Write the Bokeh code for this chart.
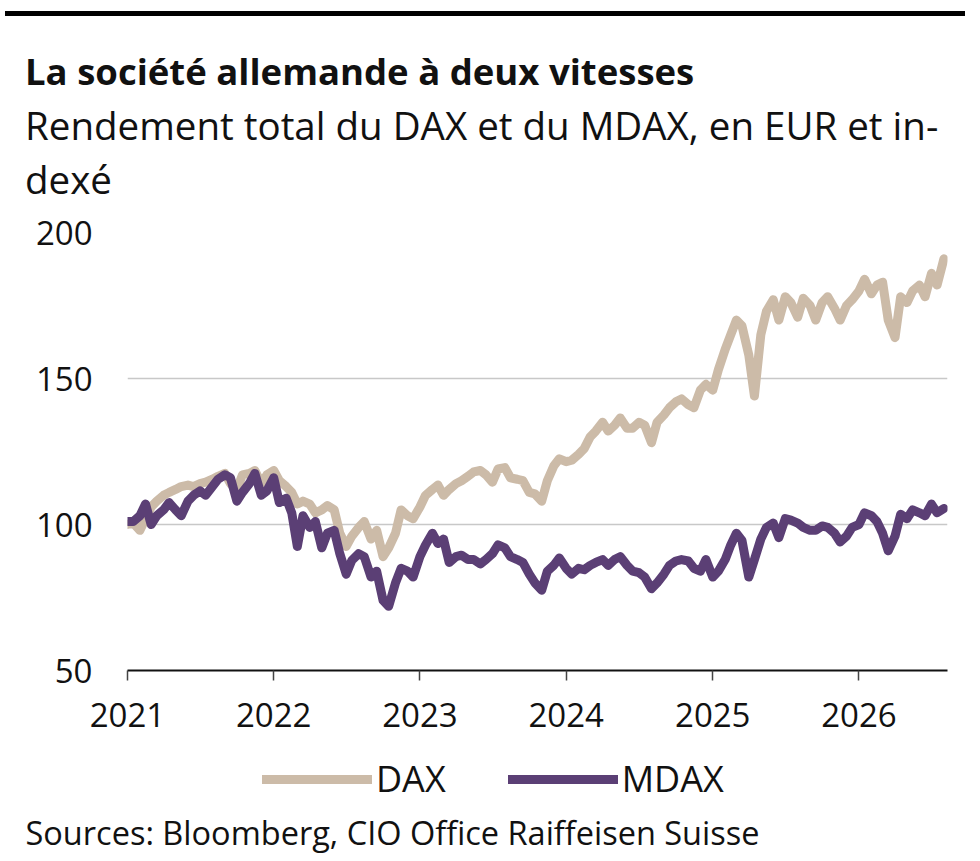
import pandas as pd
from bokeh.plotting import figure
from bokeh.layouts import column
from bokeh.models import (Title, Legend, LegendItem, FixedTicker, Div,
                          DatetimeTickFormatter, Range1d, ColumnDataSource)
from bokeh.embed import file_html
from bokeh.resources import INLINE

title_text = "La société allemande à deux vitesses"
subtitle_lines = ["Rendement total du DAX et du MDAX, en EUR et in-", "dexé"]
source_text = "Sources: Bloomberg, CIO Office Raiffeisen Suisse"
series_names = ["DAX", "MDAX"]
start_date = "2021-01-01"
end_date = "2026-08-10"
year_ticks = ["2021-01-01", "2022-01-01", "2023-01-01", "2024-01-01", "2025-01-01", "2026-01-01"]
y_ticks = [50, 100, 150, 200]

# semi-monthly readings (1st and 15th of each month), indexed to 100
dax = [100, 100.5, 98, 102, 106, 108, 110, 111, 112, 113, 113.5, 113,
       114, 114.5, 115.5, 116.5, 117.5, 114, 112, 117, 117.5, 118.5, 114, 117,
       118.5, 115, 113, 111, 107, 108, 107, 104, 105, 106.5, 105, 97,
       92.5, 96, 99, 101, 95, 98, 89, 92, 97, 105, 103, 102,
       106, 110, 112, 113.5, 110, 112, 114, 115, 116.5, 118, 118.5, 117,
       114.5, 119, 119.5, 116, 115.5, 115, 111, 110.5, 108, 115, 120, 122.5,
       121.5, 122, 124, 126, 130, 132, 135, 132, 134, 136.5, 133, 133,
       135, 134, 128, 135, 137.5, 140, 142, 143, 141, 140, 146, 148,
       146, 153, 160, 165, 170, 168, 158, 144, 165, 173, 177, 170,
       178, 176, 171, 177.5, 175, 170, 176, 178, 174, 170, 175, 177,
       180, 184, 179, 182, 183, 170, 164, 178, 176, 180, 182, 178,
       186, 182, 191]
mdax = [101, 101, 103, 107, 100, 103, 105, 107.5, 105, 103, 108, 110,
        111.5, 110, 113, 115.5, 117, 116, 108, 111, 114, 117.5, 110, 111.5,
        116, 107.5, 109, 104, 92.5, 103, 99, 101, 92, 97, 98, 90,
        83, 87.7, 90, 89, 82, 84, 74, 72, 80, 85, 84, 82,
        89, 93, 97, 93.5, 95, 87, 89, 89.5, 88, 88, 86.5, 88,
        90, 93, 92, 89, 88, 87, 83, 80, 77.5, 84, 86, 88.5,
        85, 83, 85, 84.5, 86, 87, 88, 86, 88, 89, 86, 84,
        83.5, 82, 78, 80, 83, 86, 87.5, 88, 87.5, 85, 84, 88,
        82, 84, 88, 93, 97, 94.5, 82, 88, 95, 99, 100.5, 95.5,
        102, 101.5, 100.5, 99, 98, 98, 99.5, 99, 97, 94, 96, 99,
        100, 104, 103, 101, 97, 91, 96, 103.5, 102, 105, 104, 103,
        107, 104, 105.5]

dates = pd.date_range(start_date, periods=len(dax), freq="SMS")
src = ColumnDataSource(dict(date=dates, dax=dax, mdax=mdax))

FONT = "Open Sans"
TXT = "#111111"
DAX_COLOR = "#CCBBA8"
MDAX_COLOR = "#5B3F75"
LW = 9
W = 975
HEAD_H = 200                    # header block (rule, title, subtitle)
FRAME_L, FRAME_R, FRAME_T, FRAME_B = 127, 947, 232, 670   # page coords
MAIN_BOTTOM = 748               # page y where the chart figure ends
FOOT_H = 108                    # legend + sources figure


def text_block(txt, top, size, weight="normal"):
    return ('<div style="position:absolute;left:25px;top:%.1fpx;font-size:%spx;'
            'font-weight:%s;line-height:1;white-space:nowrap;">%s</div>'
            % (top, size, weight, txt))


# header: rule + title + subtitle (baselines at 85 / 140 / 194 px)
header_html = (
    '<div style="position:relative;width:%dpx;height:%dpx;font-family:\'%s\';color:%s;">'
    % (W, HEAD_H, FONT, TXT)
    + '<div style="position:absolute;left:5px;top:11px;width:960px;height:5px;'
      'background:#000000;"></div>'
    + text_block(title_text, 85 - 0.888 * 36.5, 36.5, "bold")
    + text_block(subtitle_lines[0], 140 - 0.888 * 38.5, 38.5)
    + text_block(subtitle_lines[1], 194 - 0.888 * 38.5, 38.5)
    + '</div>')
header = Div(text=header_html, width=W, height=HEAD_H, margin=0)

# ---------------- main chart
p = figure(width=W, height=MAIN_BOTTOM - HEAD_H, x_axis_type="datetime",
           x_range=Range1d(pd.Timestamp(start_date), pd.Timestamp(end_date)),
           y_range=Range1d(50, 200),
           output_backend="svg", toolbar_location=None,
           min_border_left=FRAME_L, min_border_right=W - FRAME_R,
           min_border_top=FRAME_T - HEAD_H, min_border_bottom=MAIN_BOTTOM - FRAME_B)
p.outline_line_color = None

r_dax = p.line("date", "dax", source=src, line_color=DAX_COLOR, line_width=LW,
               line_cap="round", line_join="round")
r_mdax = p.line("date", "mdax", source=src, line_color=MDAX_COLOR, line_width=LW,
                line_cap="round", line_join="round")

p.xaxis.ticker = FixedTicker(ticks=[pd.Timestamp(t).value / 1e6 for t in year_ticks])
p.xaxis.formatter = DatetimeTickFormatter(years="%Y", months="%Y", days="%Y",
                                          hours="%Y", minutes="%Y", seconds="%Y",
                                          milliseconds="%Y", microseconds="%Y")
p.xaxis.axis_line_color = TXT
p.xaxis.axis_line_width = 2
p.xaxis.major_tick_line_color = "#444444"
p.xaxis.major_tick_line_width = 1.5
p.xaxis.major_tick_in = 0
p.xaxis.major_tick_out = 10
p.xaxis.minor_tick_line_color = None
p.xaxis.major_label_text_font = FONT
p.xaxis.major_label_text_font_size = "33px"
p.xaxis.major_label_text_color = TXT
p.xaxis.major_label_standoff = 22

p.yaxis.ticker = FixedTicker(ticks=y_ticks)
p.yaxis.axis_line_color = None
p.yaxis.major_tick_line_color = None
p.yaxis.minor_tick_line_color = None
p.yaxis.major_tick_out = 0
p.yaxis.major_tick_in = 0
p.yaxis.major_label_text_font = FONT
p.yaxis.major_label_text_font_size = "33px"
p.yaxis.major_label_text_color = TXT
p.yaxis.major_label_standoff = 35

p.xgrid.grid_line_color = None
p.ygrid.grid_line_color = "#C8C8C8"
p.ygrid.grid_line_width = 1.5

# ---------------- footer: legend + sources
foot = figure(width=W, height=FOOT_H, output_backend="svg", toolbar_location=None,
              x_axis_location=None, y_axis_location=None,
              x_range=Range1d(0, 1), y_range=Range1d(0, 1),
              min_border_left=FRAME_L, min_border_right=W - FRAME_R,
              min_border_top=0, min_border_bottom=50)
foot.grid.visible = False
foot.outline_line_color = None
k_dax = foot.line(x=[float("nan")], y=[float("nan")], line_color=DAX_COLOR,
                  line_width=LW, line_cap="round")
k_mdax = foot.line(x=[float("nan")], y=[float("nan")], line_color=MDAX_COLOR,
                   line_width=LW, line_cap="round")
legend = Legend(items=[LegendItem(label=series_names[0], renderers=[k_dax]),
                       LegendItem(label=series_names[1], renderers=[k_mdax])],
                orientation="horizontal", location=(262 - FRAME_L, 3),
                glyph_width=110, glyph_height=40, label_standoff=4, spacing=62,
                padding=0, margin=0, border_line_color=None,
                background_fill_alpha=0,
                label_text_font=FONT, label_text_font_size="36px",
                label_text_color=TXT)
foot.add_layout(legend)
foot.add_layout(Title(text=source_text, align="left", offset=25 - FRAME_L,
                      text_font=FONT, text_font_size="32.5px", text_font_style="normal",
                      text_color=TXT, standoff=2), "below")

layout = column(header, p, foot, spacing=0)
open("out.html", "w").write(file_html(layout, INLINE))
